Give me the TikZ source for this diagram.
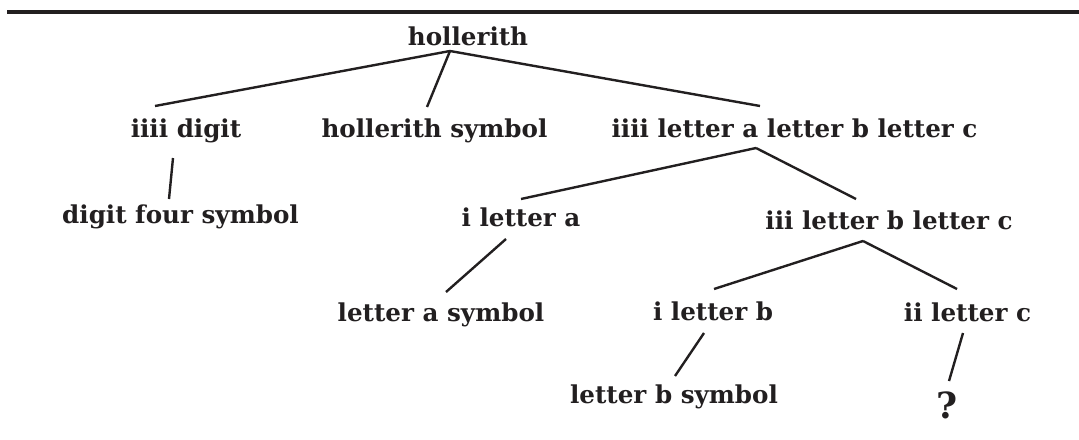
\documentclass[tikz,border=0pt]{standalone}
\usepackage{fontspec}
\setmainfont{DejaVu Serif}
\definecolor{inkgray}{RGB}{34, 31, 32}
\usepackage{tikz}

\begin{document}
\begin{tikzpicture}[x=0.5pt, y=-0.5pt,
    word/.style={anchor=base, inner sep=0pt, text=inkgray, font=\fontsize{12.3}{14}\selectfont\bfseries},
    branch/.style={draw=inkgray, line width=1.2pt}]
  \useasboundingbox (0,0) rectangle (1079,439);

  % Rule above the tree
  \draw[inkgray, line width=1.6pt] (7,12) -- (1079,12);

  % Tree labels
  \node[word] (holl) at (468,45) {hollerith};
  \node[word] (digit) at (186,137) {iiii digit};
  \node[word] (hsym) at (434.5,137) {hollerith symbol};
  \node[word] (abc) at (794.5,137) {iiii letter a letter b letter c};
  \node[word] (four) at (180.5,223) {digit four symbol};
  \node[word] (ia) at (521,226) {i letter a};
  \node[word] (bc) at (889,229) {iii letter b letter c};
  \node[word] (asym) at (441,321) {letter a symbol};
  \node[word] (ib) at (713,320) {i letter b};
  \node[word] (iic) at (967.5,321) {ii letter c};
  \node[word] (bsym) at (674,403) {letter b symbol};
  \node[word, font=\fontsize{18}{20}\selectfont\bfseries] (qm) at (947,418) {?};

  % Branches
  \draw[branch] ([shift={(-18,6)}]holl.base) -- ([shift={(-31,-31)}]digit.base);
  \draw[branch] ([shift={(-18,6)}]holl.base) -- ([shift={(-7.5,-30)}]hsym.base);
  \draw[branch] ([shift={(-18,6)}]holl.base) -- ([shift={(-34.5,-31)}]abc.base);
  \draw[branch] ([shift={(-13,21)}]digit.base) -- ([shift={(-11.5,-24)}]four.base);
  \draw[branch] ([shift={(-38.5,11)}]abc.base) -- ([shift={(0,-27)}]ia.base);
  \draw[branch] ([shift={(-38.5,11)}]abc.base) -- ([shift={(-33,-30)}]bc.base);
  \draw[branch] ([shift={(-15,13)}]ia.base) -- ([shift={(5,-29)}]asym.base);
  \draw[branch] ([shift={(-26,12)}]bc.base) -- ([shift={(1,-31)}]ib.base);
  \draw[branch] ([shift={(-26,12)}]bc.base) -- ([shift={(-10.5,-32)}]iic.base);
  \draw[branch] ([shift={(-9,13)}]ib.base) -- ([shift={(1,-27)}]bsym.base);
  \draw[branch] ([shift={(-4.5,12)}]iic.base) -- ([shift={(2,-37)}]qm.base);
\end{tikzpicture}
\end{document}
